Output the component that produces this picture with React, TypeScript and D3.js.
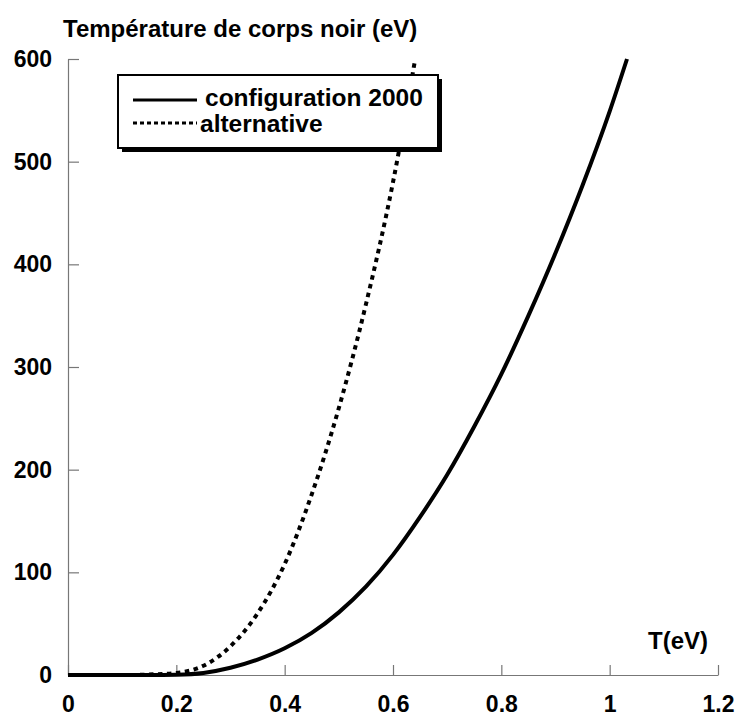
import { useEffect, useRef } from 'react';
import * as d3 from 'd3';

// T (eV) sample points, and the two curves
const configT = [0, 0.05, 0.1, 0.15, 0.2, 0.25, 0.3, 0.35, 0.4, 0.45, 0.5, 0.55, 0.6, 0.65, 0.7, 0.75, 0.8, 0.85, 0.9, 0.95, 1.0, 1.032];
const configValues = [0, 0, 0, 0, 0.3, 2, 7, 15, 26, 41, 61, 86, 117, 154, 195, 242, 293, 350, 411, 477, 549, 600];

const altT = [0, 0.05, 0.1, 0.15, 0.2, 0.25, 0.3, 0.35, 0.4, 0.45, 0.5, 0.55, 0.6, 0.641];
const altValues = [0, 0, 0, 0.5, 2, 9, 28, 60, 108, 176, 260, 361, 480, 600];

const xTicks = [0, 0.2, 0.4, 0.6, 0.8, 1, 1.2];
const yTicks = [0, 100, 200, 300, 400, 500, 600];
const legendLabels = ['configuration 2000', 'alternative'];

const W = 737;
const H = 716;
const FONT = '"Liberation Sans", Arial, Helvetica, sans-serif';

export default function App() {
  const ref = useRef<SVGSVGElement>(null);

  useEffect(() => {
    if (!ref.current) return;
    const svg = d3.select(ref.current);
    svg.selectAll('*').remove();

    const x = d3.scaleLinear().domain([0, 1.2]).range([68, 718]);
    const y = d3.scaleLinear().domain([0, 600]).range([675, 59]);

    svg.append('rect').attr('width', W).attr('height', H).attr('fill', '#fff');

    // axes
    const xAxis = svg
      .append('g')
      .attr('transform', `translate(0,${y(0)})`)
      .call(
        d3
          .axisBottom(x)
          .tickValues(xTicks)
          .tickFormat(d => String(+d))
          .tickSizeInner(-10)
          .tickSizeOuter(0)
          .tickPadding(21)
      );
    xAxis.select('.domain').attr('stroke', '#777').attr('stroke-width', 1.2);
    xAxis.selectAll('line').attr('stroke', '#777').attr('stroke-width', 1.2);
    xAxis
      .selectAll('text')
      .attr('fill', '#000')
      .style('font-family', FONT)
      .style('font-weight', 'bold')
      .style('font-size', '23px');

    const yAxis = svg
      .append('g')
      .attr('transform', `translate(${x(0)},0)`)
      .call(
        d3
          .axisLeft(y)
          .tickValues(yTicks)
          .tickSizeInner(-11)
          .tickSizeOuter(0)
          .tickPadding(16)
      );
    yAxis.select('.domain').attr('stroke', '#777').attr('stroke-width', 1.2);
    yAxis.selectAll('line').attr('stroke', '#777').attr('stroke-width', 1.2);
    yAxis
      .selectAll('text')
      .attr('fill', '#000')
      .style('font-family', FONT)
      .style('font-weight', 'bold')
      .style('font-size', '23px');

    // curves
    const line = d3
      .line<[number, number]>()
      .x(d => x(d[0]))
      .y(d => y(d[1]))
      .curve(d3.curveMonotoneX);

    svg
      .append('path')
      .attr('d', line(configT.map((t, i) => [t, configValues[i]]))!)
      .attr('fill', 'none')
      .attr('stroke', '#000')
      .attr('stroke-width', 4);

    svg
      .append('path')
      .attr('d', line(altT.map((t, i) => [t, altValues[i]]))!)
      .attr('fill', 'none')
      .attr('stroke', '#000')
      .attr('stroke-width', 4)
      .attr('stroke-dasharray', '4.5,4.5');

    // titles
    svg
      .append('text')
      .attr('x', 63)
      .attr('y', 37)
      .text('Température de corps noir (eV)')
      .style('font-family', FONT)
      .style('font-weight', 'bold')
      .style('font-size', '24px');

    svg
      .append('text')
      .attr('x', 708)
      .attr('y', 649)
      .attr('text-anchor', 'end')
      .text('T(eV)')
      .style('font-family', FONT)
      .style('font-weight', 'bold')
      .style('font-size', '24px');

    // legend
    const lg = svg.append('g');
    lg.append('rect')
      .attr('x', 122)
      .attr('y', 79)
      .attr('width', 320)
      .attr('height', 73)
      .attr('fill', '#000');
    lg.append('rect')
      .attr('x', 118)
      .attr('y', 75)
      .attr('width', 320)
      .attr('height', 73)
      .attr('fill', '#fff')
      .attr('stroke', '#000')
      .attr('stroke-width', 2);

    const rows = [
      { y: 100, dash: null, tx: 205, ty: 106 },
      { y: 123, dash: '4,3', tx: 200, ty: 132 },
    ];
    rows.forEach((r, i) => {
      const l = lg
        .append('line')
        .attr('x1', 133)
        .attr('x2', 197)
        .attr('y1', r.y)
        .attr('y2', r.y)
        .attr('stroke', '#000')
        .attr('stroke-width', 3);
      if (r.dash) l.attr('stroke-dasharray', r.dash);
      lg.append('text')
        .attr('x', r.tx)
        .attr('y', r.ty)
        .text(legendLabels[i])
        .style('font-family', FONT)
        .style('font-weight', 'bold')
        .style('font-size', '24.5px');
    });
  }, []);

  return (
    <svg
      ref={ref}
      width={W}
      height={H}
      style={{ position: 'absolute', left: 0, top: 0 }}
    />
  );
}
